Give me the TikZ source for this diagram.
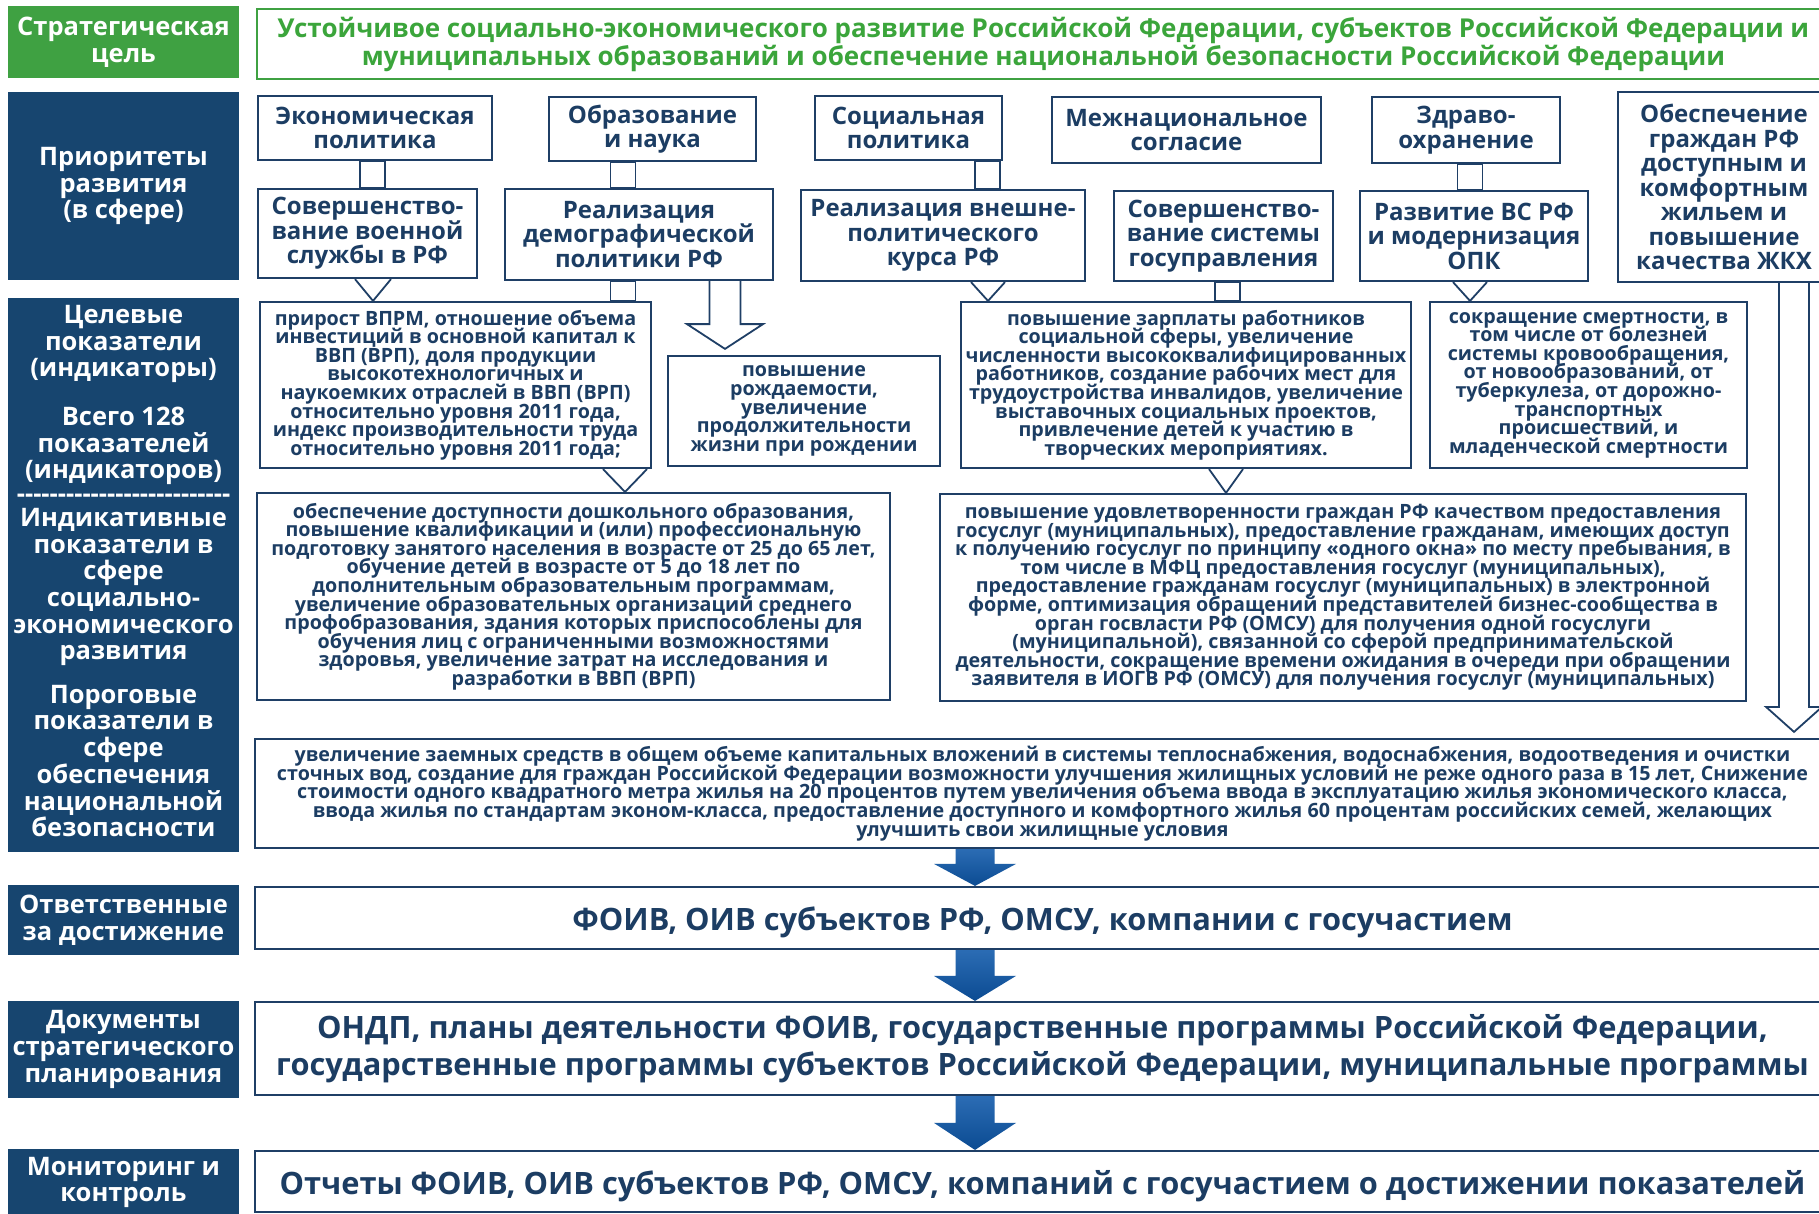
\documentclass[tikz,border=0pt]{standalone}
\usepackage{fontspec}
\setmainfont{Open Sans}
\usetikzlibrary{calc}
\definecolor{navy}{HTML}{17456F}
\definecolor{txt}{HTML}{1C3D63}
\definecolor{bord}{HTML}{1F3F66}
\definecolor{grn}{HTML}{3FA142}
\definecolor{grntxt}{HTML}{3BA53B}
\definecolor{arrtop}{HTML}{2B6CB4}
\definecolor{arrbot}{HTML}{0B4B92}
\newcommand\ftL{\bfseries\fontsize{25.5}{26.7}\selectfont\lineskiplimit=-100pt}
\newcommand\ftT{\bfseries\fontsize{26}{28}\selectfont\lineskiplimit=-100pt}
\newcommand\ftA{\bfseries\fontsize{24}{24.5}\selectfont\lineskiplimit=-100pt}
\newcommand\ftS{\bfseries\fontsize{19.7}{18.6}\selectfont\lineskiplimit=-100pt}
\newcommand\ftB{\bfseries\fontsize{30.8}{37}\selectfont\lineskiplimit=-100pt}
\newcommand\bx[7]{\node[#1,minimum width={(#5-#3)*1pt},minimum height={(#6-#4)*1pt}] (#2) at ({(#3+#5)/2},{(#4+#6)/2}) {#7};}
\newcommand\dconn[3]{\draw[conn] ($(#1.south -| #3)+(-12.5,0)$) rectangle ($(#2.north -| #3)+(12.5,0)$);}
\newcommand\chevron[4]{\draw[chev] ($(#1.south -| #3)+(-#4,0)$) -- (#2.north -| #3) -- ($(#1.south -| #3)+(#4,0)$);}
\newcommand\blarrow[3]{\shade[blockarrow] ($(#1.south -| ax)+(-19.5,0)$) -- ($(#2.north -| ax)+(-19.5,-#3)$) -- ($(#2.north -| ax)+(-41,-#3)$) -- (#2.north -| ax) -- ($(#2.north -| ax)+(41,-#3)$) -- ($(#2.north -| ax)+(19.5,-#3)$) -- ($(#1.south -| ax)+(19.5,0)$) -- cycle;}
\tikzset{
 navybox/.style={fill=navy,draw=none,inner sep=0pt},
 lbltext/.style={text=white,align=center,inner sep=0pt,font=\ftL},
 greenbox/.style={fill=grn,draw=none,text=white,align=center,inner sep=0pt,font=\ftL},
 goalbox/.style={draw=grn,line width=2.5pt,fill=white,text=grntxt,align=center,inner sep=0pt,font=\ftT},
 pbox/.style={draw=bord,line width=2.2pt,fill=white,text=txt,align=center,inner sep=0pt,font=\ftA},
 sbox/.style={pbox,font=\ftS},
 bbox/.style={pbox,font=\ftB},
 conn/.style={draw=bord,line width=1.8pt,fill=white,line join=miter},
 chev/.style={draw=bord,line width=1.8pt,fill=white,line join=miter},
 blockarrow/.style={top color=arrtop,bottom color=arrbot,draw=none},
}
\begin{document}
\begin{tikzpicture}[x=1pt,y=-1pt]
\useasboundingbox (0,0) rectangle (1819,1213);
\fill[white] (0,0) rectangle (1819,1213);
% left column
\bx{greenbox}{Lstrat}{8}{6}{239}{78}{Стратегическая\\цель}
\bx{navybox,lbltext}{Lprior}{8}{92}{239}{280}{Приоритеты\\развития\\(в сфере)}
\bx{navybox}{Ltsel}{8}{298}{239}{852}{}
\node[lbltext] (Lt1) at (123.5,344) {Целевые\\показатели\\(индикаторы)};
\node[lbltext] (Lt2) at (123.5,446) {Всего 128\\показателей\\(индикаторов)};
\node[lbltext] (Lt3) at (123.5,498) {-{}-{}-{}-{}-{}-{}-{}-{}-{}-{}-{}-{}-{}-{}-{}-{}-{}-{}-{}-{}-{}-{}-{}-{}-{}-{}};
\node[lbltext] (Lt4) at (123.5,587) {Индикативные\\показатели в\\сфере\\социально-\\экономического\\развития};
\node[lbltext] (Lt5) at (123.5,761) {Пороговые\\показатели в\\сфере\\обеспечения\\национальной\\безопасности};
\bx{navybox,lbltext}{Lotv}{8}{885}{239}{955}{Ответственные\\за достижение}
\bx{navybox,lbltext}{Ldok}{8}{1001}{239}{1098}{Документы\\стратегического\\планирования}
\bx{navybox,lbltext}{Lmon}{8}{1149}{239}{1216}{Мониторинг и\\контроль}
% goal
\bx{goalbox}{Goal}{257}{9}{1830}{79}{Устойчивое социально-экономического развитие Российской Федерации, субъектов Российской Федерации и\\муниципальных образований и обеспечение национальной безопасности Российской Федерации}
% row A
\bx{pbox}{A1}{258}{96}{492}{160}{Экономическая\\политика}
\bx{pbox}{A2}{549}{97}{756}{161}{Образование\\и наука}
\bx{pbox}{A3}{815}{96}{1002}{160}{Социальная\\политика}
\bx{pbox}{A4}{1052}{97}{1321}{163}{Межнациональное\\согласие}
\bx{pbox}{A5}{1372}{97}{1560}{163}{Здраво-\\охранение}
\bx{pbox}{A6}{1618}{92}{1830}{282}{Обеспечение\\граждан РФ\\доступным и\\комфортным\\жильем и\\повышение\\качества ЖКХ}
% row B
\bx{pbox}{B1}{258}{189}{477}{278}{Совершенство-\\вание военной\\службы в РФ}
\bx{pbox}{B2}{505}{189}{773}{280}{Реализация\\демографической\\политики РФ}
\bx{pbox}{B3}{801}{190}{1085}{281}{Реализация внешне-\\политического\\курса РФ}
\bx{pbox}{B4}{1114}{191}{1333}{281}{Совершенство-\\вание системы\\госуправления}
\bx{pbox}{B5}{1360}{191}{1588}{281}{Развитие ВС РФ\\и модернизация\\ОПК}
% row C
\bx{sbox}{C1}{260}{302}{651}{468}{прирост ВПРМ, отношение объема\\инвестиций в основной капитал к\\ВВП (ВРП), доля продукции\\высокотехнологичных  и\\наукоемких отраслей в ВВП (ВРП)\\относительно уровня 2011 года,\\индекс производительности труда\\относительно уровня 2011 года;}
\bx{sbox}{C2}{668}{356}{940}{466}{повышение\\рождаемости,\\увеличение\\продолжительности\\жизни при рождении}
\bx{sbox}{C3}{961}{302}{1411}{468}{повышение зарплаты работников\\социальной сферы, увеличение\\численности высококвалифицированных\\работников, создание рабочих мест для\\трудоустройства инвалидов, увеличение\\выставочных социальных проектов,\\привлечение детей к участию в\\творческих мероприятиях.}
\bx{sbox}{C4}{1430}{302}{1747}{468}{сокращение смертности, в\\том числе от болезней\\системы кровообращения,\\от новообразований, от\\туберкулеза, от дорожно-\\транспортных\\происшествий, и\\младенческой смертности}
% row D
\bx{sbox}{D1}{257}{493}{890}{700}{обеспечение доступности дошкольного образования,\\повышение квалификации и (или) профессиональную\\подготовку занятого населения в возрасте от 25 до 65 лет,\\обучение детей в возрасте от 5 до 18 лет по\\дополнительным образовательным программам,\\увеличение образовательных организаций среднего\\профобразования, здания которых приспособлены для\\обучения лиц с ограниченными возможностями\\здоровья, увеличение затрат на исследования и\\разработки в ВВП (ВРП)}
\bx{sbox}{D2}{940}{494}{1746}{701}{повышение удовлетворенности граждан РФ качеством предоставления\\госуслуг (муниципальных), предоставление гражданам, имеющих доступ\\к получению госуслуг по принципу «одного окна» по месту пребывания, в\\том числе в МФЦ предоставления госуслуг (муниципальных),\\предоставление гражданам госуслуг (муниципальных) в электронной\\форме, оптимизация обращений представителей бизнес-сообщества в\\орган госвласти РФ (ОМСУ) для получения одной госуслуги\\(муниципальной), связанной со сферой предпринимательской\\деятельности, сокращение времени ожидания в очереди при обращении\\заявителя в ИОГВ РФ (ОМСУ) для получения госуслуг (муниципальных)}
% row E
\bx{sbox}{E}{255}{739}{1830}{848}{увеличение заемных средств в общем объеме капитальных вложений в системы теплоснабжения, водоснабжения, водоотведения и очистки\\сточных вод, создание для граждан Российской Федерации возможности улучшения жилищных условий не реже одного раза в 15 лет, Снижение\\стоимости одного квадратного метра жилья на 20 процентов путем увеличения объема ввода в эксплуатацию жилья экономического класса,\\ввода жилья по стандартам эконом-класса, предоставление доступного и комфортного жилья 60 процентам российских семей, желающих\\улучшить свои жилищные условия}
% bottom rows
\bx{bbox}{F}{255}{887}{1830}{949}{\raisebox{-4.5pt}[\height][\depth]{ФОИВ, ОИВ субъектов РФ, ОМСУ, компании с госучастием}}
\bx{bbox}{G}{255}{1002}{1830}{1095}{ОНДП, планы деятельности ФОИВ, государственные программы Российской Федерации,\\государственные программы субъектов Российской Федерации, муниципальные программы}
\bx{bbox}{H}{255}{1151}{1830}{1212}{\raisebox{-4.5pt}[\height][\depth]{Отчеты ФОИВ, ОИВ субъектов РФ, ОМСУ, компаний с госучастием о достижении показателей}}
% connector x positions
\coordinate (k1) at (372.5,0);
\coordinate (k2) at (623,0);
\coordinate (k3) at (987.5,0);
\coordinate (k5) at (1470,0);
\coordinate (k4) at (1227.5,0);
\coordinate (v1) at (373,0);
\coordinate (v2) at (625,0);
\coordinate (v3) at (988,0);
\coordinate (v5) at (1470,0);
\coordinate (v6) at (1226,0);
\coordinate (h2) at (725,0);
\coordinate (h6) at (1794,0);
\coordinate (ax) at (975,0);
% double connectors
\dconn{A1}{B1}{k1}
\dconn{A2}{B2}{k2}
\dconn{A3}{B3}{k3}
\dconn{A5}{B5}{k5}
\dconn{B2}{C1}{k2}
\dconn{B4}{C3}{k4}
% chevrons
\chevron{B1}{C1}{v1}{18}
\chevron{C1}{D1}{v2}{22}
\chevron{B3}{C3}{v3}{17}
\chevron{B5}{C4}{v5}{17}
\chevron{C3}{D2}{v6}{17}
% hollow block arrows
\draw[conn] ($(B2.south -| h2)+(-15.5,0)$) -- ($(B2.south -| h2)+(-15.5,43)$) -- ($(B2.south -| h2)+(-38,43)$) -- ($(C2.north -| h2)+(0,-6)$) -- ($(B2.south -| h2)+(38,43)$) -- ($(B2.south -| h2)+(15.5,43)$) -- ($(B2.south -| h2)+(15.5,0)$);
\draw[conn] ($(A6.south -| h6)+(-15,0)$) -- ($(E.north -| h6)+(-15,-31)$) -- ($(E.north -| h6)+(-28,-31)$) -- ($(E.north -| h6)+(0,-6)$) -- ($(E.north -| h6)+(28,-31)$) -- ($(E.north -| h6)+(15,-31)$) -- ($(A6.south -| h6)+(15,0)$);
% blue arrows
\blarrow{E}{F}{22}
\blarrow{F}{G}{25}
\blarrow{G}{H}{27}
\end{tikzpicture}
\end{document}
